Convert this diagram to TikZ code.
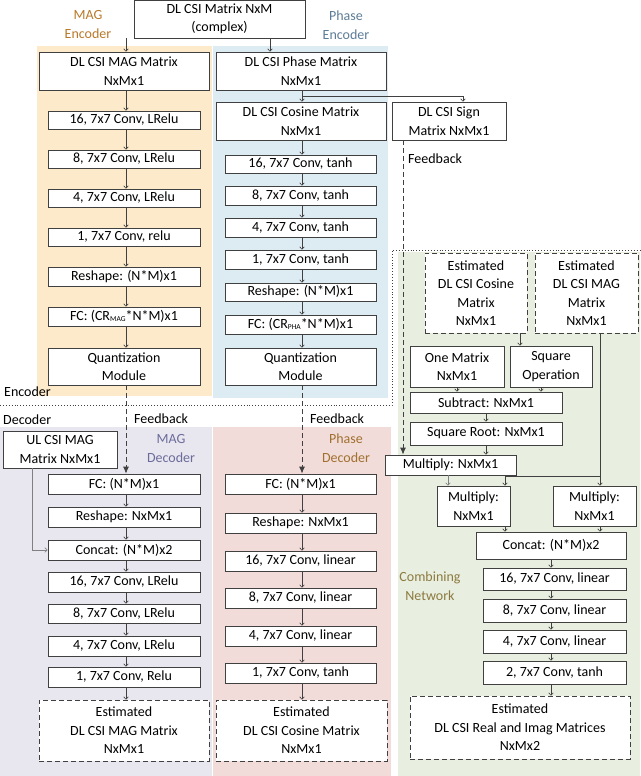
\documentclass[tikz,border=0pt]{standalone}
\usepackage{fontspec}
\setmainfont{Carlito}
\usetikzlibrary{arrows.meta,calc}
\definecolor{bgO}{HTML}{FCEACB}
\definecolor{bgB}{HTML}{DDECF3}
\definecolor{bgP}{HTML}{E8E6EE}
\definecolor{bgR}{HTML}{F2DCDA}
\definecolor{bgG}{HTML}{E9EFE0}
\definecolor{tO}{HTML}{B8792A}
\definecolor{tB}{HTML}{5C7C96}
\definecolor{tP}{HTML}{6C6C9C}
\definecolor{tR}{HTML}{A0702E}
\definecolor{tG}{HTML}{8C7A40}
\definecolor{ln}{HTML}{404040}
\tikzset{
 box/.style={draw=ln,fill=white,line width=0.8pt,inner sep=0pt,align=center,font=\fontsize{14}{18.5}\selectfont},
 dbox/.style={box,dashed,dash pattern=on 5pt off 3pt},
 arr/.style={draw=ln,line width=0.6pt,-{To[length=3pt,width=5pt]}},
 farr/.style={draw=ln,line width=0.8pt,dashed,dash pattern=on 5pt off 3pt,-{Latex[length=7pt,width=6pt]}},
 lbl/.style={font=\fontsize{14}{19}\selectfont,align=center,inner sep=0pt},
 sep/.style={draw=ln,line width=0.9pt,dotted},
}
\newcommand\sbs[1]{\raisebox{-1pt}{\fontsize{7.5}{8}\selectfont #1}}
\newcommand\bx[6]{\node[#1, minimum width={(#4)-(#2)}, minimum height={(#5)-(#3)}] (#6) at ({((#2)+(#4))/2},{((#3)+(#5))/2})}
\begin{document}
\begin{tikzpicture}[x=1pt,y=-1pt]
\useasboundingbox (0,0) rectangle (640,776);
% backgrounds
\fill[bgO] (37,46) rectangle (212,396);
\fill[bgB] (213,46) rectangle (388,398);
\fill[bgP] (0,427) rectangle (212,776);
\fill[bgR] (213,427) rectangle (391,776);
\fill[bgG] (398,252) rectangle (640,776);
% separator
\draw[sep] (0,405) -- (392,405) -- (392,250) -- (640,250);
% labels
\node[lbl,text=tO] at (88,25) {MAG\\Encoder};
\node[lbl,text=tB] at (346,25) {Phase\\Encoder};
\node[lbl,anchor=west] at (4,392) {Encoder};
\node[lbl,anchor=west] at (3,420) {Decoder};
\node[lbl,anchor=west] at (134,419) {Feedback};
\node[lbl,text=tP] at (171,448) {MAG\\Decoder};
\node[lbl,anchor=west] at (310,419) {Feedback};
\node[lbl,text=tR] at (346,448) {Phase\\Decoder};
\node[lbl,anchor=west] at (408,159) {Feedback};
\node[lbl,text=tG] at (430,586) {Combining\\Network};
% top
\bx{box}{134}{0}{305}{38}{top}{DL CSI Matrix NxM\\(complex)};
\bx{box}{39}{52}{209}{90}{mag}{DL CSI MAG Matrix\\NxMx1};
\bx{box}{216}{52}{386}{90}{pha}{DL CSI Phase Matrix\\NxMx1};
\bx{box}{216}{102}{386}{140}{cos}{DL CSI Cosine Matrix\\NxMx1};
\bx{box}{392}{102}{506}{140}{sign}{DL CSI Sign\\Matrix NxMx1};
% MAG encoder
\bx{box}{48}{111}{200}{129}{m1}{16, 7x7 Conv, LRelu};
\bx{box}{48}{150}{200}{168}{m2}{8, 7x7 Conv, LRelu};
\bx{box}{48}{189}{200}{207}{m3}{4, 7x7 Conv, LRelu};
\bx{box}{48}{228}{200}{246}{m4}{1, 7x7 Conv, relu};
\bx{box}{48}{267}{200}{286}{m5}{Reshape: (N*M)x1};
\bx{box}{48}{307}{200}{326}{m6}{FC: (CR\sbs{MAG}*N*M)x1};
\bx{box}{48}{348}{200}{385}{m7}{Quantization\\Module};
% phase encoder
\bx{box}{225}{155}{376}{173}{p1}{16, 7x7 Conv, tanh};
\bx{box}{225}{186}{376}{205}{p2}{8, 7x7 Conv, tanh};
\bx{box}{225}{218}{376}{237}{p3}{4, 7x7 Conv, tanh};
\bx{box}{225}{250}{376}{269}{p4}{1, 7x7 Conv, tanh};
\bx{box}{225}{283}{376}{301}{p5}{Reshape: (N*M)x1};
\bx{box}{225}{315}{376}{334}{p6}{FC: (CR\sbs{PHA}*N*M)x1};
\bx{box}{225}{348}{376}{385}{p7}{Quantization\\Module};
% MAG decoder
\bx{box}{3}{431}{117}{468}{ul}{UL CSI MAG\\Matrix NxMx1};
\bx{box}{48}{474}{200}{494}{d1}{FC: (N*M)x1};
\bx{box}{48}{507}{200}{527}{d2}{Reshape: NxMx1};
\bx{box}{48}{540}{200}{560}{d3}{Concat: (N*M)x2};
\bx{box}{48}{572}{200}{592}{d4}{16, 7x7 Conv, LRelu};
\bx{box}{48}{604}{200}{623}{d5}{8, 7x7 Conv, LRelu};
\bx{box}{48}{636}{200}{656}{d6}{4, 7x7 Conv, LRelu};
\bx{box}{48}{667}{200}{687}{d7}{1, 7x7 Conv, Relu};
\bx{dbox}{39}{700}{209}{761}{d8}{Estimated\\DL CSI MAG Matrix\\NxMx1};
% phase decoder
\bx{box}{225}{474}{376}{494}{e1}{FC: (N*M)x1};
\bx{box}{225}{513}{376}{533}{e2}{Reshape: NxMx1};
\bx{box}{225}{551}{376}{571}{e3}{16, 7x7 Conv, linear};
\bx{box}{225}{588}{376}{608}{e4}{8, 7x7 Conv, linear};
\bx{box}{225}{626}{376}{646}{e5}{4, 7x7 Conv, linear};
\bx{box}{225}{663}{376}{683}{e6}{1, 7x7 Conv, tanh};
\bx{dbox}{216}{700}{387}{761}{e7}{Estimated\\DL CSI Cosine Matrix\\NxMx1};
% combining
\bx{dbox}{425}{253}{527}{333}{ec}{Estimated\\DL CSI Cosine\\Matrix\\NxMx1};
\bx{dbox}{535}{253}{638}{333}{em}{Estimated\\DL CSI MAG\\Matrix\\NxMx1};
\bx{box}{410}{346}{504}{387}{one}{One Matrix\\NxMx1};
\bx{box}{510}{346}{592}{387}{sq}{Square\\Operation};
\bx{box}{410}{392}{562}{413}{sub}{Subtract: NxMx1};
\bx{box}{410}{422}{562}{445}{sr}{Square Root: NxMx1};
\bx{box}{385}{455}{516}{475}{mu}{Multiply: NxMx1};
\bx{box}{437}{486}{510}{526}{mu2}{Multiply:\\NxMx1};
\bx{box}{553}{486}{636}{526}{mu3}{Multiply:\\NxMx1};
\bx{box}{476}{532}{626}{559}{cc}{Concat: (N*M)x2};
\bx{box}{483}{568}{626}{590}{c1}{16, 7x7 Conv, linear};
\bx{box}{483}{599}{626}{622}{c2}{8, 7x7 Conv, linear};
\bx{box}{483}{630}{626}{653}{c3}{4, 7x7 Conv, linear};
\bx{box}{483}{661}{626}{684}{c4}{2, 7x7 Conv, tanh};
\bx{dbox}{410}{696}{630}{759}{c5}{Estimated\\DL CSI Real and Imag Matrices\\NxMx2};
% helper coordinates
\coordinate (X126) at (126,0); \coordinate (X173) at (173,0); \coordinate (X270) at (270,0);
\coordinate (X302) at (302,0); \coordinate (X463) at (463,0); \coordinate (X403) at (403,0);
\coordinate (X32) at (32,0); \coordinate (X520) at (520,0); \coordinate (X457) at (457,0);
\coordinate (X541) at (541,0); \coordinate (X486) at (486,0); \coordinate (X448) at (448,0);
\coordinate (X505) at (505,0); \coordinate (X600) at (600,0); \coordinate (X551) at (551,0);
\coordinate (Y96) at (0,96); \coordinate (Y550) at (0,550); \coordinate (Y476) at (0,476);
% encoder arrows
\draw[arr] (top.south -| X126) -- (mag.north -| X126);
\draw[arr] (top.south -| X270) -- (pha.north -| X270);
\foreach \a/\b in {mag/m1,m1/m2,m2/m3,m3/m4,m4/m5,m5/m6,m6/m7}
  \draw[arr] (\a.south -| X126) -- (\b.north -| X126);
\draw[arr] (pha.south -| X302) -- (cos.north -| X302);
\draw[arr] (pha.south -| X302) |- (Y96 -| X463) -- (sign.north -| X463);
\foreach \a/\b in {cos/p1,p1/p2,p2/p3,p3/p4,p4/p5,p5/p6,p6/p7}
  \draw[arr] (\a.south -| X302) -- (\b.north -| X302);
% feedback
\draw[farr] (m7.south -| X126) -- (d1.north -| X126);
\draw[farr] (p7.south -| X302) -- (e1.north -| X302);
\draw[farr] (sign.south -| X403) -- (mu.north -| X403);
% decoder arrows
\foreach \a/\b in {d1/d2,d2/d3,d3/d4,d4/d5,d5/d6,d6/d7,d7/d8}
  \draw[arr] (\a.south -| X126) -- (\b.north -| X126);
\draw[arr,draw=gray] (ul.south -| X32) |- (d3.west);
\foreach \a/\b in {e1/e2,e2/e3,e3/e4,e4/e5,e5/e6,e6/e7}
  \draw[arr] (\a.south -| X302) -- (\b.north -| X302);
% combining arrows
\draw[arr] (ec.south -| X520) -- (sq.north -| X520);
\draw[arr] (one.south -| X457) -- (sub.north -| X457);
\draw[arr] (sq.south -| X541) -- (sub.north -| X541);
\draw[arr] (sub.south -| X486) -- (sr.north -| X486);
\draw[arr] (sr.south -| X486) -- (mu.north -| X486);
\draw[arr,draw=gray] (mu.south -| X448) -- (mu2.north -| X448);
\draw[arr] (em.south -| X600) -- (mu3.north -| X600);
\draw[arr] (Y476 -| X600) -| (mu2.north -| X505);
\draw[arr] (mu2.south -| X505) -- (cc.north -| X505);
\draw[arr] (mu3.south -| X600) -- (cc.north -| X600);
\foreach \a/\b in {cc/c1,c1/c2,c2/c3,c3/c4,c4/c5}
  \draw[arr] (\a.south -| X551) -- (\b.north -| X551);
\end{tikzpicture}
\end{document}
